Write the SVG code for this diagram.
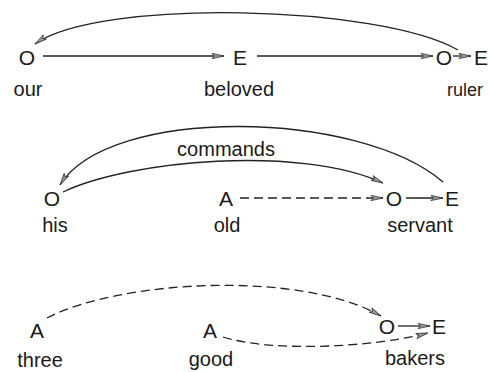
<svg xmlns="http://www.w3.org/2000/svg" width="489" height="372" viewBox="0 0 489 372">
  <style>
    .node text, .lbl { font-family: "Liberation Sans", Arial, sans-serif; fill: #1a1a1a; text-anchor: middle; }
    .sym { font-size: 21px; }
    .word { font-size: 20px; }
    .small { font-size: 18px; }
    .edge { fill: none; stroke: #222; stroke-width: 1.3; marker-end: url(#arr); }
    .dash { stroke-dasharray: 9 5; }
  </style>
  <defs>
    <marker id="arr" markerUnits="userSpaceOnUse" markerWidth="14" markerHeight="8" viewBox="-1 -4 14 8" refX="12" refY="0" orient="auto">
      <path d="M0,-2.6 L12,0 L0,2.6 L2.5,0 Z" fill="#9a9a9a" stroke="#333" stroke-width="0.8" stroke-linejoin="miter"/>
    </marker>
  </defs>

  <!-- connectors -->
  <g id="connectors">
    <!-- our beloved ruler -->
    <path class="edge" d="M43,56 L224,56"/>
    <path class="edge" d="M257,56 L433,56"/>
    <path class="edge" d="M453,56 L471,56"/>
    <path class="edge" d="M458,50 C380,5 100,-2 35,44"/>
    <!-- his old servant -->
    <path class="edge" d="M443,182 C360,110 110,105 60,185"/>
    <path class="edge" d="M63,192 C130,160 300,145 383,183"/>
    <path class="edge dash" d="M240,198 L383,198"/>
    <path class="edge" d="M406,198 L443,198"/>
    <!-- three good bakers -->
    <path class="edge dash" d="M47,318 C120,280 300,270 381,316"/>
    <path class="edge dash" d="M223,337 C270,352 370,348 428,333"/>
    <path class="edge" d="M398,326 L430,326"/>
  </g>

  <text class="lbl word" x="226" y="156">commands</text>

  <g id="n-our" class="node"><text class="sym" x="27" y="65">O</text><text class="word" x="28" y="96">our</text></g>
  <g id="n-beloved" class="node"><text class="sym" x="240" y="65">E</text><text class="word" x="239" y="96">beloved</text></g>
  <g id="n-ruler" class="node"><text class="sym" x="444" y="65">O</text><text class="sym" x="481" y="65">E</text><text class="small" x="465" y="96">ruler</text></g>

  <g id="n-his" class="node"><text class="sym" x="52" y="206">O</text><text class="word" x="55" y="232">his</text></g>
  <g id="n-old" class="node"><text class="sym" x="226" y="206">A</text><text class="word" x="227" y="232">old</text></g>
  <g id="n-servant" class="node"><text class="sym" x="394" y="206">O</text><text class="sym" x="452" y="206">E</text><text class="word" x="420" y="232">servant</text></g>

  <g id="n-three" class="node"><text class="sym" x="37" y="338">A</text><text class="word" x="40" y="367">three</text></g>
  <g id="n-good" class="node"><text class="sym" x="210" y="338">A</text><text class="word" x="211" y="366">good</text></g>
  <g id="n-bakers" class="node"><text class="sym" x="387" y="334">O</text><text class="sym" x="439" y="334">E</text><text class="word" x="415" y="365">bakers</text></g>
</svg>
